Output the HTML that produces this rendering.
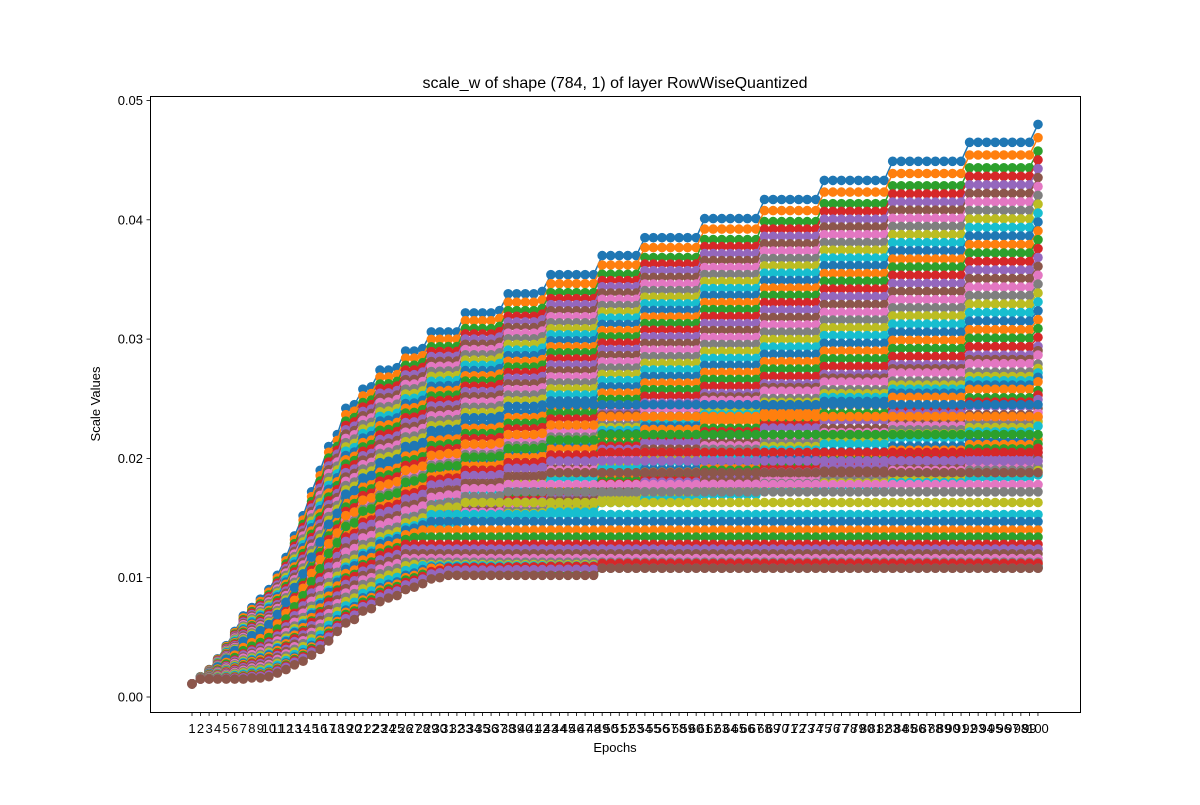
<!DOCTYPE html>
<html><head><meta charset="utf-8"><style>
body{margin:0;background:#fff;}
svg text{font-family:"Liberation Sans","DejaVu Sans",sans-serif;fill:#000;}
</style></head><body>
<svg id="chart" width="1200" height="800" xmlns="http://www.w3.org/2000/svg">
<rect width="1200" height="800" fill="#fff"/>
<text x="615" y="88" font-size="16" text-anchor="middle">scale_w of shape (784, 1) of layer RowWiseQuantized</text>
<g id="plot"></g>
<rect x="150.5" y="96.5" width="930" height="616" fill="none" stroke="#000" stroke-width="1"/>
<g id="xticks"></g>
<g id="yticks"></g>
<text x="615" y="752" font-size="13" text-anchor="middle">Epochs</text>
<text x="100" y="404" font-size="13" text-anchor="middle" transform="rotate(-90 100 404)">Scale Values</text>
</svg>
<script>
const epochs = Array.from({length:100},(_,i)=>i+1);
const topSeries = [.0011,.0017,.0023,.0032,.0043,.0055,.0068,.0075,.0082,.009,
.0102,.0117,.0135,.0152,.0172,.019,.021,.022,.0242,.0245,
.0258,.026,.0274,.0274,.0276,.029,.029,.0292,.0306,.0306,
.0306,.0306,.0322,.0322,.0322,.0322,.0324,.0338,.0338,.0338,
.0338,.034,.0354,.0354,.0354,.0354,.0354,.0354,.037,.037,
.037,.037,.037,.0385,.0385,.0385,.0385,.0385,.0385,.0385,
.0401,.0401,.0401,.0401,.0401,.0401,.0401,.0417,.0417,.0417,
.0417,.0417,.0417,.0417,.0433,.0433,.0433,.0433,.0433,.0433,
.0433,.0433,.0449,.0449,.0449,.0449,.0449,.0449,.0449,.0449,
.0449,.0465,.0465,.0465,.0465,.0465,.0465,.0465,.0465,.048];
const bottomSeries = [.0011,.0015,.0015,.0015,.0015,.0015,.0015,.0016,.0016,.0017,
.002,.0023,.0027,.003,.0035,.004,.0047,.0055,.0062,.0065,
.0072,.0074,.008,.0083,.0085,.009,.0092,.0095,.0099,.01,
.0102,.0102,.0102,.0102,.0102,.0102,.0102,.0102,.0102,.0102,
.0102,.0102,.0102,.0102,.0102,.0102,.0102,.0102,.0108,.0108,
.0108,.0108,.0108,.0108,.0108,.0108,.0108,.0108,.0108,.0108,
.0108,.0108,.0108,.0108,.0108,.0108,.0108,.0108,.0108,.0108,
.0108,.0108,.0108,.0108,.0108,.0108,.0108,.0108,.0108,.0108,
.0108,.0108,.0108,.0108,.0108,.0108,.0108,.0108,.0108,.0108,
.0108,.0108,.0108,.0108,.0108,.0108,.0108,.0108,.0108,.0108];
const seriesWeights = [1,.97,.94,.92,.9,.88,.86,.84,.82,.8,.78,.76,.74,.72,.7,.68,.66,.64,.62,.6,
.58,.56,.54,.52,.5,.49,.48,.46,.45,.44,.43,.42,.4,.39,.38,.36,.35,.34,.33,.32,
.3,.29,.28,.27,.26,.25,.24,.23,.22,.21,
.6,.5,.45,.4,.38,.35,.33,.3,.28,.26,.25,.23,.21,.2,.18,.16,.14,.12,.1,.08,
.06,.05,.04,.03,.02,0];
const seriesCaps = [1,1,1,1,1,1,1,1,1,1,1,1,1,1,1,1,1,1,1,1,
1,1,1,1,1,1,1,1,1,1,1,1,1,1,1,1,1,1,1,1,
1,1,1,1,1,1,1,1,1,1,
.0245,.0235,.022,.0205,.0198,.0188,.0178,.0172,.0163,.0153,.0147,.014,.0134,.0128,.0124,.012,.0116,.0113,.0111,.011,
.0109,.0108,.0103,.0112,.0108,.0108];
const yTicks = [0,0.01,0.02,0.03,0.04,0.05];
const yTickLabels = ["0.00","0.01","0.02","0.03","0.04","0.05"];
const colors = ["#1f77b4","#ff7f0e","#2ca02c","#d62728","#9467bd","#8c564b","#e377c2","#7f7f7f","#bcbd22","#17becf"];
const NS="http://www.w3.org/2000/svg";
const xScale = e => 192 + (e-1)*8.545;
const yScale = v => 697 - v*11930;
const plot = document.getElementById('plot');
seriesWeights.forEach((w,j)=>{
  const cap = seriesCaps[j];
  const vals = epochs.map((e,i)=>{
    let v = Math.min(cap, bottomSeries[i] + (topSeries[i]-bottomSeries[i])*w);
    if (cap < 0.0105 && i >= 48) v = 0.0108;
    return v;
  });
  const col = colors[j%10];
  const g = document.createElementNS(NS,'g');
  
  
  const pl = document.createElementNS(NS,'polyline');
  pl.setAttribute('points', vals.map((v,i)=>xScale(epochs[i]).toFixed(1)+','+yScale(v).toFixed(1)).join(' '));
  pl.setAttribute('fill','none');pl.setAttribute('stroke',col);pl.setAttribute('stroke-width','1.5');
  
  
  g.appendChild(pl);
  vals.forEach((v,i)=>{
    const c = document.createElementNS(NS,'circle');
    c.setAttribute('cx',xScale(epochs[i]).toFixed(1));c.setAttribute('cy',yScale(v).toFixed(1));
    c.setAttribute('r','4.8');c.setAttribute('fill',col);
    
    
    g.appendChild(c);
  });
  plot.appendChild(g);
});
const xt = document.getElementById('xticks');
epochs.forEach(e=>{
  const x = xScale(e);
  const l = document.createElementNS(NS,'line');
  l.setAttribute('x1',x);l.setAttribute('x2',x);l.setAttribute('y1',712.5);l.setAttribute('y2',716);
  l.setAttribute('stroke','#000');l.setAttribute('stroke-width','0.8');
  
  
  xt.appendChild(l);
  const t = document.createElementNS(NS,'text');
  t.setAttribute('x',x);t.setAttribute('y',733);t.setAttribute('font-size','13');t.setAttribute('text-anchor','middle');
  t.textContent = e;
  
  
  xt.appendChild(t);
});
const yt = document.getElementById('yticks');
yTicks.forEach((v,i)=>{
  const y = yScale(v);
  const l = document.createElementNS(NS,'line');
  l.setAttribute('x1',146.5);l.setAttribute('x2',150.5);l.setAttribute('y1',y);l.setAttribute('y2',y);
  l.setAttribute('stroke','#000');l.setAttribute('stroke-width','0.8');
  
  
  yt.appendChild(l);
  const t = document.createElementNS(NS,'text');
  t.setAttribute('x',143);t.setAttribute('y',y+4.5);t.setAttribute('font-size','13');t.setAttribute('text-anchor','end');
  t.textContent = yTickLabels[i];
  
  
  yt.appendChild(t);
});
</script>
</body></html>
